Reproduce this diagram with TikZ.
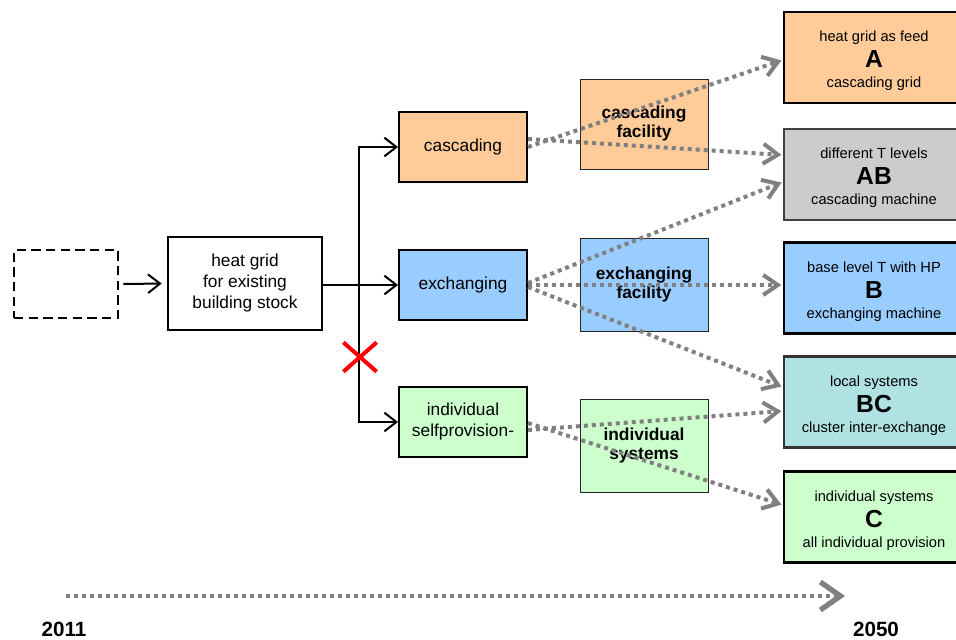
\documentclass[tikz,border=0pt]{standalone}
\usepackage{fontspec}
\setmainfont{Liberation Sans}
\usetikzlibrary{arrows.meta,calc,shapes.misc}
\definecolor{corange}{HTML}{FFCC99}
\definecolor{cgray}{HTML}{CCCCCC}
\definecolor{cblue}{HTML}{99CCFF}
\definecolor{cteal}{HTML}{B0E2E4}
\definecolor{cgreen}{HTML}{CCFFCC}
\definecolor{cdots}{HTML}{808080}
\newcommand{\bigletter}[1]{{\bfseries\fontsize{18.5}{17.25}\selectfont #1}}
\newcommand{\topstrut}{\rule{0pt}{13pt}}
\begin{document}
\begin{tikzpicture}[x=0.75pt,y=-0.75pt,
  box/.style={draw, line width=1.5pt, inner sep=0pt, align=center,
    font=\fontsize{13}{15.75}\selectfont},
  stage/.style={box, minimum width=96pt, minimum height=52.5pt},
  fac/.style={draw=black!85, line width=0.75pt, inner sep=0pt, minimum width=96pt,
    minimum height=69.75pt, align=center, font=\bfseries\fontsize{13}{14.25}\selectfont},
  res/.style={draw, line width=1.9pt, inner sep=0pt, minimum width=135pt,
    minimum height=68.25pt, align=center, font=\fontsize{11}{17.25}\selectfont},
  blk/.style={line width=1.5pt, -{Straight Barb[length=9pt,width=14pt]}},
  dots/.style={draw=cdots, line width=3pt, dash pattern=on 3pt off 3pt,
    -{Straight Barb[length=11pt,width=15pt]}, shorten >=1pt},
  timeline/.style={draw=cdots, line width=3pt, dash pattern=on 3pt off 3pt,
    -{Straight Barb[length=15pt,width=21pt,line width=4pt]}},
  year/.style={font=\bfseries\fontsize{15.5}{15.5}\selectfont, inner sep=0pt}
]
\useasboundingbox (0,0) rectangle (956,639);

% left boxes
\node[draw, line width=2pt, dash pattern=on 7pt off 4pt, minimum width=78pt,
  minimum height=51pt, inner sep=0pt] (dash) at (66,284) {};
\node[box, minimum width=115.5pt, minimum height=69.75pt] (hg) at (245,283.5)
  {heat grid\\for existing\\building stock};

% stages
\node[stage, fill=corange] (casc) at (463,147) {cascading};
\node[stage, fill=cblue] (exch) at (463,285) {exchanging};
\node[stage, fill=cgreen] (indiv) at (463,422) {individual\\selfprovision-};

% facilities
\node[fac, fill=corange, minimum height=67.5pt] (cfac) at (644,124) {cascading\\facility};
\node[fac, fill=cblue] (efac) at (644,284.5) {exchanging\\facility};
\node[fac, fill=cgreen] (ifac) at (644,445.5) {individual\\systems};

% results
\node[res, fill=corange] (A) at (874,57.5)
  {\topstrut heat grid as feed\\[2.5pt]\bigletter{A}\\[-2.5pt]cascading grid};
\node[res, fill=cgray, draw=black!75] (AB) at (874,174.5)
  {\topstrut different T levels\\[2.5pt]\bigletter{AB}\\[-2.5pt]cascading machine};
\node[res, fill=cblue] (B) at (874,288)
  {\topstrut base level T with HP\\[2.5pt]\bigletter{B}\\[-2.5pt]exchanging machine};
\node[res, fill=cteal, draw=black!80] (BC) at (874,402)
  {\topstrut local systems\\[2.5pt]\bigletter{BC}\\[-2.5pt]cluster inter-exchange};
\node[res, fill=cgreen] (C) at (874,517)
  {\topstrut individual systems\\[2.5pt]\bigletter{C}\\[-2.5pt]all individual provision};

% black connectors
\draw[blk, shorten <=3pt, shorten >=4pt] (dash.east) -- (hg.west);
\coordinate (j) at (359,285);
\draw[line width=1.5pt] (j -| hg.east) -- (j);
\draw[blk] (j) |- (casc.west);
\draw[blk] (j) -- (exch.west);
\draw[blk] (j) |- (indiv.west);

% red cross
\node[cross out, draw=red, line width=3pt, minimum width=22pt, minimum height=19pt,
  inner sep=0pt] (x) at (360,357) {};

% dotted connectors
\draw[dots] ($(casc.east)+(0,0)$) -- ($(A.west)+(0,2.5)$);
\draw[dots] ($(casc.east)+(0,-8)$) -- ($(AB.west)+(0,-19.5)$);
\draw[dots] ($(exch.east)+(0,-2)$) -- ($(AB.west)+(0,7.5)$);
\draw[dots] ($(exch.east)+(0,0)$) -- ($(B.west)+(0,-3)$);
\draw[dots] ($(exch.east)+(0,2)$) -- ($(BC.west)+(0,-15)$);
\draw[dots] ($(indiv.east)+(0,8)$) -- ($(BC.west)+(0,9)$);
\draw[dots] ($(indiv.east)+(0,1)$) -- ($(C.west)+(0,-12)$);

% timeline
\coordinate (t0) at (66,596);
\coordinate (t1) at (845,596);
\draw[timeline] (t0) -- (t1);
\node[year] (y0) at (64,629) {2011};
\node[year] (y1) at (876,629) {2050};
\end{tikzpicture}
\end{document}
